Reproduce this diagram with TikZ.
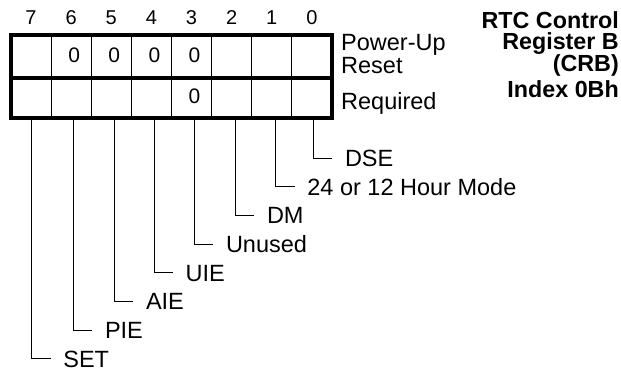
\documentclass[tikz,border=0pt]{standalone}
\usepackage{fontspec}
\setmainfont{Liberation Sans}[BoldFont={Liberation Sans Bold}]
\begin{document}
\begin{tikzpicture}[x=1pt,y=-1pt,
  lbl/.style={font=\fontsize{23.5}{27}\selectfont, inner sep=0pt, anchor=base west},
  ttl/.style={font=\fontsize{23.3}{27}\selectfont\bfseries, inner sep=0pt, anchor=base east},
  bitnum/.style={font=\fontsize{20}{24}\selectfont, inner sep=0pt, anchor=base},
  zero/.style={font=\fontsize{21}{24}\selectfont, inner sep=0pt, anchor=base},
  border/.style={line width=4pt},
  divider/.style={line width=1.2pt},
  leader/.style={line width=1pt}]
\useasboundingbox (0,0) rectangle (621,373);
% register grid
\foreach \i in {1,...,7}
  \draw[divider] ({11+40.125*\i},34.5) -- ({11+40.125*\i},117.5);
\draw[border] (11,34.5) rectangle (332,117.5);
\draw[border] (11,78) -- (332,78);
% bit numbers
\foreach \b [count=\i from 0] in {7,...,0}
  \node[bitnum] (n\b) at ({31+40.125*\i},24) {\b};
% power-up reset values
\foreach \b/\i in {6/1,5/2,4/3,3/4}
  \node[zero] (p\b) at ({34+40.125*\i},62.7) {0};
\node[zero] (r3) at ({34+40.125*4},103.3) {0};
% row labels
\node[lbl] (pu) at (341,50.7) {Power-Up};
\node[lbl] (rs) at (341,73.3) {Reset};
\node[lbl] (rq) at (341,109.3) {Required};
% title
\node[ttl] (t1) at (619,28.3) {RTC Control};
\node[ttl] (t2) at (619,49.3) {Register B};
\node[ttl] (t3) at (619,71.3) {(CRB)};
\node[ttl] (t4) at (619,97.3) {Index 0Bh};
% bit field leaders
\foreach \b/\xv/\txt in {7/31.7/SET, 6/73.3/PIE, 5/114.3/AIE, 4/154/UIE, 3/194.3/Unused, 2/235.3/DM, 1/275.7/24 or 12 Hour Mode, 0/313.3/DSE} {
  \pgfmathsetmacro\yv{158+28.7*\b}
  \coordinate (s\b) at (\xv,117.5);
  \coordinate (e\b) at (\xv+19,\yv);
  \node[lbl] (l\b) at (\xv+31.5,\yv+8.3) {\txt};
  \draw[leader] (s\b) |- (e\b);
}
\end{tikzpicture}
\end{document}
